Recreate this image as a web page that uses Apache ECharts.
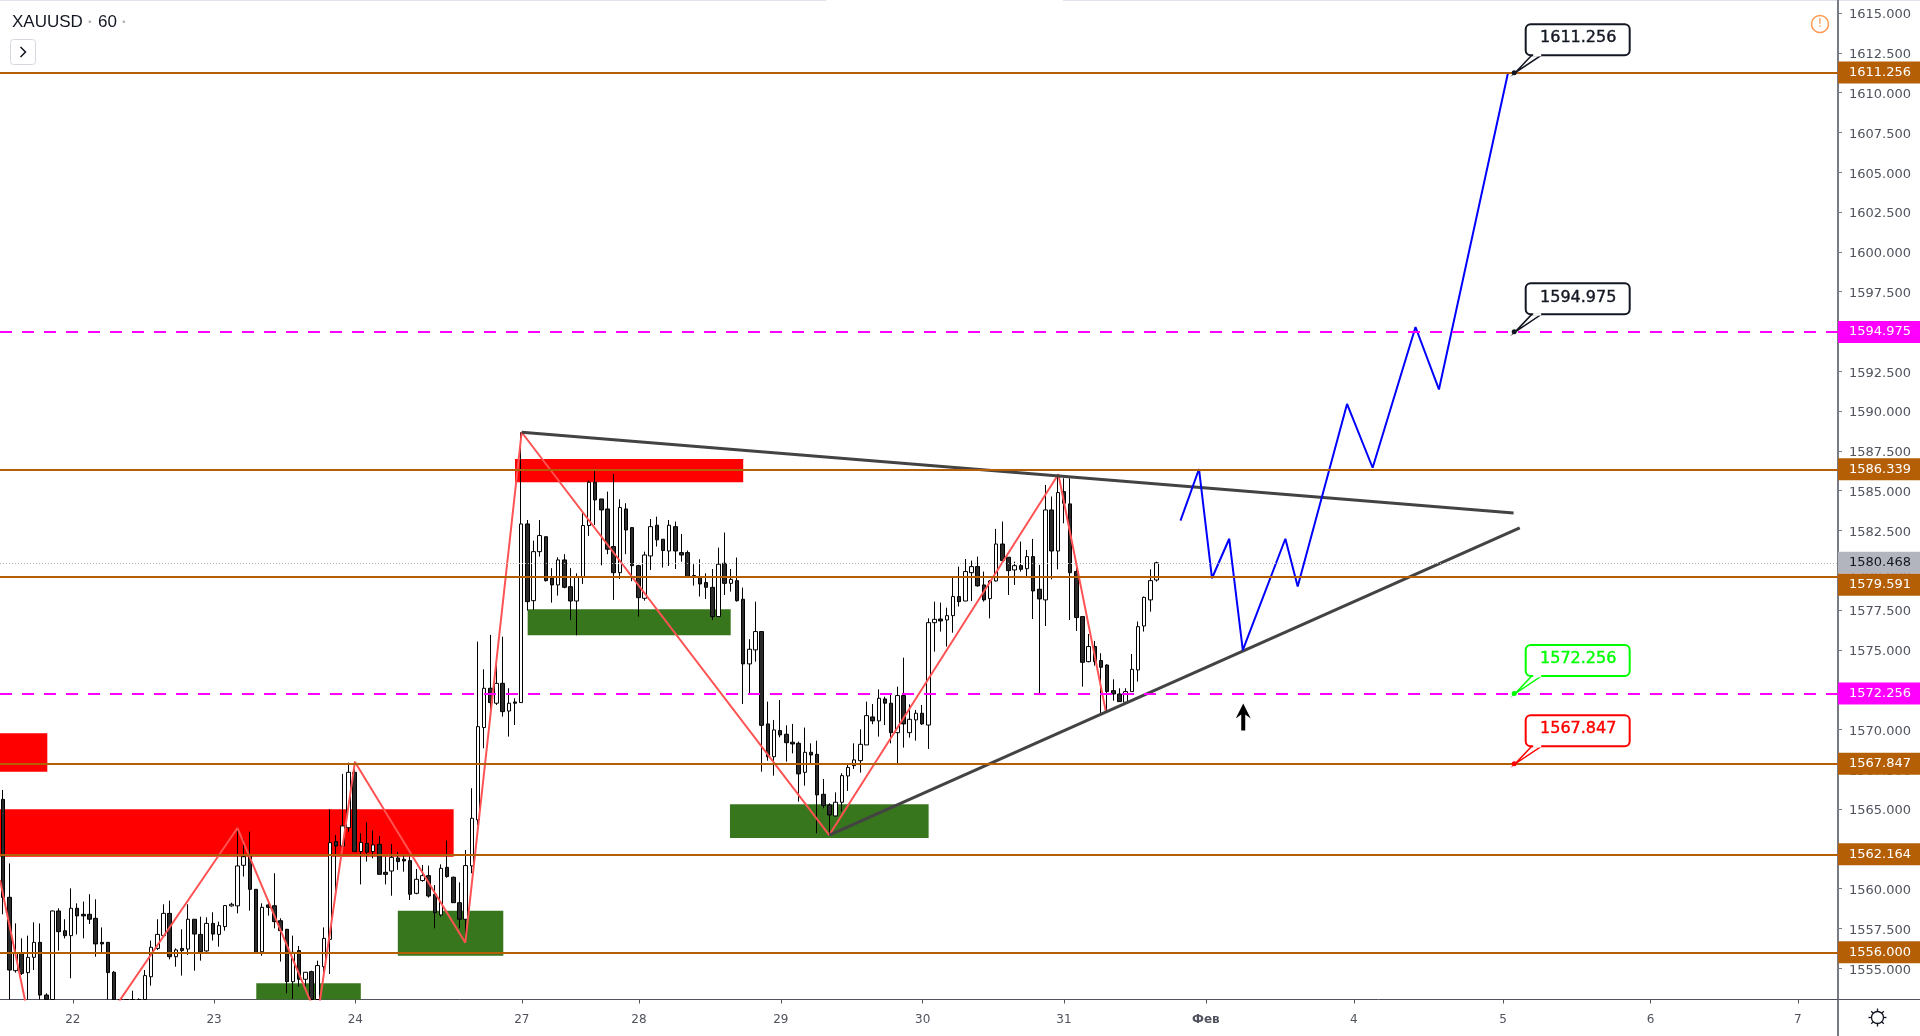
<!DOCTYPE html>
<html lang="ru">
<head>
<meta charset="UTF-8">
<title>XAUUSD 60</title>
<script src="https://cdn.jsdelivr.net/npm/echarts@6/dist/echarts.min.js"></script>
<style>
  html, body { margin: 0; padding: 0; background: #fff; }
  #main { width: 1920px; height: 1036px; }
</style>
</head>
<body>
<div id="main"></div>
<script>
// x is counted in hourly bar slots, bar i sits at i + 0.5
var slotCount = 298;
var priceMin = 1553.04;
var priceMax = 1615.82;

var opens = [
  1565.61,1559.46,1554.85,1555.94,1554.73,1555.69,1556.63,1553.32,1552.6,1558.60,
  1557.36,1557.05,1558.77,1558.39,1558.39,1558.14,1556.63,1556.63,1554.75,1552.8,
  1552.0,1552.4,1552.6,1552.9,1554.47,1556.25,1557.05,1558.45,1555.73,1556.25,
  1556.21,1558.08,1557.13,1556.09,1557.82,1557.13,1557.62,1558.92,1558.92,1561.47,
  1562.01,1559.96,1556.04,1558.98,1558.93,1557.99,1557.45,1554.16,1556.11,1554.31,
  1554.79,1552.9,1555.10,1556.82,1562.96,1562.68,1563.83,1567.31,1562.33,1562.85,
  1562.33,1562.79,1561.03,1561.11,1561.93,1561.85,1561.76,1559.71,1560.51,1560.82,
  1559.65,1558.35,1561.34,1560.72,1559.12,1558.08,1561.43,1564.32,1570.12,1572.59,
  1571.65,1572.90,1571.16,1571.73,1571.69,1582.91,1578.09,1581.17,1582.11,1579.50,
  1579.08,1580.65,1578.97,1578.07,1579.60,1582.81,1585.53,1584.48,1583.85,1581.49,
  1579.85,1583.85,1582.68,1580.29,1578.24,1580.90,1582.83,1581.95,1581.21,1582.74,
  1581.11,1581.11,1579.67,1579.56,1579.23,1578.93,1577.09,1580.44,1579.18,1579.35,
  1578.18,1574.12,1575.00,1576.15,1570.35,1568.29,1569.93,1569.70,1569.20,1569.13,
  1567.31,1568.57,1568.44,1565.93,1565.26,1564.57,1565.43,1567.08,1567.73,1568.04,
  1569.03,1570.79,1570.54,1571.92,1571.65,1569.80,1572.13,1569.80,1570.60,1571.02,
  1570.28,1576.71,1576.94,1576.88,1577.15,1578.35,1578.07,1579.85,1580.23,1579.08,
  1578.22,1579.33,1581.65,1580.82,1580.02,1580.29,1580.10,1580.86,1578.81,1578.14,
  1583.79,1581.21,1584.94,1584.17,1579.92,1577.09,1574.26,1575.21,1574.33,1574.05,
  1572.44,1572.23,1571.71,1572.38,1573.74,1576.50,1578.14,1579.39
];
var closes = [
  1559.44,1554.89,1555.94,1554.68,1555.69,1556.63,1553.32,1553.0,1558.60,1557.30,
  1557.05,1558.77,1558.29,1558.29,1558.08,1556.53,1556.53,1554.73,1552.9,1552.0,
  1552.5,1552.8,1552.9,1554.54,1556.32,1557.13,1558.45,1555.73,1556.15,1556.11,
  1558.08,1557.15,1556.04,1557.82,1557.15,1557.68,1558.94,1559.02,1561.43,1562.01,
  1559.96,1555.98,1558.83,1558.83,1557.93,1557.36,1554.16,1556.00,1554.31,1554.75,
  1552.9,1555.17,1556.88,1562.89,1562.68,1563.94,1567.31,1562.33,1562.91,1562.29,
  1562.75,1560.90,1560.90,1561.97,1561.70,1561.74,1559.65,1560.59,1560.82,1559.54,
  1558.49,1561.28,1560.76,1559.12,1558.08,1561.45,1564.42,1570.18,1572.59,1571.69,
  1572.90,1571.12,1571.65,1571.65,1582.91,1578.03,1581.17,1582.18,1579.35,1579.08,
  1580.65,1578.93,1578.07,1579.60,1582.81,1585.53,1584.42,1583.79,1581.32,1579.85,
  1583.94,1582.53,1580.29,1578.28,1580.96,1582.74,1581.91,1581.24,1582.83,1581.21,
  1580.96,1579.60,1579.60,1579.14,1578.93,1577.09,1580.38,1579.18,1579.43,1578.09,
  1574.12,1575.04,1576.15,1570.26,1568.29,1569.97,1569.66,1569.17,1569.09,1567.21,
  1568.57,1568.40,1565.89,1565.22,1564.63,1565.43,1567.10,1567.62,1568.09,1569.07,
  1570.87,1570.54,1571.96,1571.65,1569.80,1572.13,1570.35,1570.64,1571.02,1570.35,
  1576.71,1576.92,1576.82,1577.15,1578.35,1578.03,1579.92,1580.23,1579.02,1578.14,
  1579.33,1581.65,1580.61,1579.98,1580.29,1580.06,1580.86,1578.70,1578.20,1583.79,
  1581.21,1584.88,1584.21,1579.85,1577.03,1574.22,1575.21,1574.26,1573.91,1572.38,
  1572.23,1571.75,1572.38,1573.78,1576.46,1578.30,1579.35,1580.47
];
var lows = [
  1558.39,1552.5,1554.73,1554.58,1553.0,1554.89,1552.8,1552.5,1552.3,1556.11,
  1556.88,1554.37,1557.13,1556.88,1557.78,1555.73,1556.02,1553.0,1552.5,1551.5,
  1551.5,1552.0,1552.0,1552.5,1553.91,1556.15,1556.99,1555.56,1555.10,1554.54,
  1555.84,1554.85,1555.48,1556.04,1556.74,1556.36,1557.36,1558.87,1558.45,1560.76,
  1558.62,1555.90,1555.79,1558.31,1557.51,1555.42,1553.43,1553.07,1553.85,1553.85,
  1552.5,1552.5,1554.64,1554.64,1559.81,1562.43,1563.58,1562.33,1560.27,1561.70,
  1561.91,1560.90,1560.27,1559.56,1561.18,1561.07,1559.29,1559.65,1560.44,1559.44,
  1557.51,1558.24,1560.69,1559.12,1557.51,1556.61,1560.97,1564.00,1568.82,1570.60,
  1571.54,1570.81,1569.55,1570.28,1571.69,1577.47,1577.51,1580.86,1579.29,1577.97,
  1578.41,1578.87,1576.88,1575.92,1579.14,1582.16,1582.85,1580.31,1581.01,1578.14,
  1579.46,1581.01,1579.31,1577.09,1578.09,1580.02,1581.49,1580.17,1580.27,1580.08,
  1580.54,1579.54,1579.04,1578.35,1578.20,1576.88,1577.09,1578.45,1578.66,1578.03,
  1571.60,1572.27,1574.26,1567.35,1568.04,1567.10,1569.51,1567.98,1568.50,1565.47,
  1566.47,1567.88,1563.48,1565.05,1563.37,1564.53,1564.84,1566.14,1567.52,1567.29,
  1569.03,1570.33,1569.55,1570.28,1569.13,1567.77,1568.86,1569.49,1569.30,1570.28,
  1568.78,1574.89,1576.15,1575.21,1576.08,1577.72,1578.07,1578.07,1578.97,1578.03,
  1576.98,1579.29,1580.54,1578.45,1579.08,1579.92,1579.60,1576.94,1572.27,1576.50,
  1579.43,1580.06,1582.95,1576.88,1576.19,1572.69,1574.22,1574.01,1570.98,1571.12,
  1571.81,1571.75,1571.65,1572.38,1573.01,1576.15,1577.40,1579.29
];
var highs = [
  1566.20,1561.59,1557.82,1556.88,1557.05,1557.89,1557.82,1553.43,1558.62,1558.77,
  1558.08,1560.02,1559.08,1559.19,1559.65,1559.33,1557.57,1556.63,1554.83,1552.9,
  1552.8,1553.59,1553.11,1554.89,1556.74,1558.08,1559.02,1559.25,1556.25,1557.45,
  1559.02,1558.08,1558.24,1558.20,1558.52,1557.93,1558.96,1559.12,1563.79,1563.10,
  1563.58,1559.96,1559.08,1559.25,1560.97,1558.14,1557.47,1557.05,1556.40,1554.75,
  1554.85,1555.48,1557.57,1564.99,1563.37,1567.21,1567.92,1567.98,1563.48,1564.17,
  1563.65,1563.31,1562.01,1562.81,1562.29,1562.12,1562.01,1561.24,1561.49,1561.45,
  1560.23,1561.53,1563.02,1560.76,1560.40,1562.43,1566.31,1575.52,1573.78,1575.94,
  1574.62,1575.83,1572.59,1571.96,1588.67,1583.16,1581.86,1583.16,1582.11,1580.13,
  1580.82,1581.01,1580.13,1579.81,1583.58,1585.63,1586.26,1584.48,1584.94,1586.05,
  1584.46,1584.21,1582.70,1580.34,1581.17,1583.22,1583.37,1581.95,1583.16,1583.06,
  1582.28,1581.24,1580.38,1580.69,1579.81,1580.08,1581.42,1582.37,1580.08,1580.80,
  1578.91,1575.67,1578.03,1576.15,1571.75,1570.60,1571.85,1570.26,1570.35,1569.24,
  1570.12,1569.13,1569.30,1566.89,1565.36,1566.05,1567.25,1567.88,1569.13,1570.01,
  1571.75,1571.60,1572.52,1572.06,1572.21,1572.69,1574.51,1571.58,1571.23,1571.54,
  1576.98,1578.03,1577.97,1577.65,1579.56,1580.23,1580.71,1580.61,1580.86,1579.92,
  1579.39,1582.60,1583.06,1580.82,1580.54,1581.80,1581.28,1581.97,1580.34,1585.36,
  1584.63,1586.03,1585.78,1585.78,1580.54,1577.09,1576.00,1575.56,1574.79,1574.09,
  1573.15,1572.59,1572.59,1574.74,1576.78,1578.35,1580.06,1580.54
];

var dayTicks = [11.8, 34.7, 57.6, 84.6, 103.6, 126.6, 149.6, 172.5, 195.5, 219.5, 243.7, 267.6, 291.5];
var dayLabels = ['22', '23', '24', '27', '28', '29', '30', '31', 'Фев', '4', '5', '6', '7'];
var priceTicks = [
  1555, 1557.5, 1560, 1562.5, 1565, 1567.5, 1570, 1572.5, 1575, 1577.5, 1580, 1582.5, 1585,
  1587.5, 1590, 1592.5, 1595, 1597.5, 1600, 1602.5, 1605, 1607.5, 1610, 1612.5, 1615
];

// horizontal levels
var brownLevels = [1611.256, 1586.339, 1579.591, 1567.847, 1562.164, 1556.000];
var magentaLevels = [1594.975, 1572.256];
var lastPrice = 1580.468;

// zones: slot from, slot to, price top, price bottom
var redZones = [
  [0, 7.67, 1569.76, 1567.35],
  [0, 73.55, 1564.99, 1562.01],
  [83.5, 120.5, 1586.99, 1585.53]
];
var greenZones = [
  [41.55, 58.5, 1554.06, 1553.04],
  [64.5, 81.6, 1558.62, 1555.79],
  [85.55, 118.47, 1577.55, 1575.92],
  [118.35, 150.56, 1565.30, 1563.18]
];

var zigzagPath = [
  [0, 1560.55], [7.65, 1546.31], [38.5, 1563.81], [51.47, 1551.90], [57.55, 1567.96],
  [75.44, 1556.61], [84.58, 1588.67], [134.45, 1563.37], [171.6, 1586.03], [179.3, 1571.12]
];
var upperTrend = [[84.58, 1588.67], [245.4, 1583.60]];
var lowerTrend = [[134.45, 1563.37], [246.4, 1582.67]];
var forecastPath = [
  [191.4, 1583.12], [194.4, 1586.36], [196.5, 1579.50], [199.3, 1581.98], [201.5, 1574.98],
  [208.4, 1581.98], [210.4, 1578.98], [218.4, 1590.45], [222.55, 1586.44], [229.5, 1595.28],
  [233.3, 1591.36], [244.5, 1611.256]
];
var arrowPoint = [[201.57, 1570.78]];

var calloutSlot = 245.5;
var calloutPrices = [1611.256, 1594.975, 1572.256, 1567.847];
var calloutColors = ['#131722', '#131722', '#00ff00', '#ff0000'];

var axisFont = 'DejaVu Sans';

// bars run off the bottom of the pane, the candlestick series does not cut them there
function inPane(v) { return Math.max(v, priceMin); }
var candleData = opens.map(function (o, i) {
  return [i + 0.5, inPane(o), inPane(closes[i]), inPane(lows[i]), inPane(highs[i])];
});

function levelLine(value, color, type, width) {
  return {
    yAxis: value,
    lineStyle: { color: color, type: type, width: width },
    label: {
      show: true, position: 'end', distance: 0,
      formatter: value.toFixed(3),
      color: '#fff', backgroundColor: color,
      fontFamily: axisFont, fontSize: 13,
      padding: [4, 10, 4, 11], lineHeight: 14
    }
  };
}

var levelLines = brownLevels.map(function (v) { return levelLine(v, '#b45f06', 'solid', 2); })
  .concat(magentaLevels.map(function (v) { return levelLine(v, '#ff00ff', [12, 10], 2); }));
var lastLine = levelLine(lastPrice, '#b2b5be', [1, 2], 1);
lastLine.label.color = '#131722';
levelLines.unshift(lastLine);
// the scale pushes this box down so it does not sit on the last price box
levelLines[3].label.offset = [0, 8];

function renderZone(color) {
  return function (params, api) {
    var a = api.coord([api.value(0), api.value(2)]);
    var b = api.coord([api.value(1), api.value(3)]);
    return {
      type: 'rect',
      shape: { x: a[0], y: a[1], width: b[0] - a[0], height: b[1] - a[1] },
      style: { fill: color }
    };
  };
}

function renderCallout(params, api) {
  var p = api.coord([api.value(0), api.value(1)]);
  var color = calloutColors[params.dataIndex];
  var boxX = p[0] + 11.5, boxY = p[1] - 48.5;
  return {
    type: 'group',
    children: [
      {
        type: 'polygon',
        shape: { points: [[p[0] + 1, p[1]], [p[0] + 18, p[1] - 18], [p[0] + 28, p[1] - 18]] },
        style: { fill: '#fff', stroke: color, lineWidth: 1.5 }
      },
      {
        type: 'rect',
        shape: { x: boxX, y: boxY, width: 104, height: 31, r: 5 },
        style: { fill: '#fff', stroke: color, lineWidth: 2 }
      },
      {
        type: 'line',
        shape: { x1: p[0] + 19, y1: p[1] - 17.5, x2: p[0] + 27, y2: p[1] - 17.5 },
        style: { stroke: '#fff', lineWidth: 2.5 }
      },
      {
        type: 'text',
        style: {
          text: api.value(1).toFixed(3), x: p[0] + 64, y: p[1] - 34.5,
          align: 'center', verticalAlign: 'middle',
          fontFamily: axisFont, fontSize: 16, fill: color, stroke: color, lineWidth: 0.4
        }
      },
      { type: 'circle', shape: { cx: p[0], cy: p[1], r: 2.5 }, style: { fill: color } }
    ]
  };
}

function pathSeries(data, color, width, z) {
  return {
    type: 'line', data: data, showSymbol: false, silent: true, z: z,
    lineStyle: { color: color, width: width }, animation: false
  };
}

// little spokes of the settings gear
var gearSpokes = [[0, -1], [0, 1], [-1, 0], [1, 0], [-0.7, -0.7], [0.7, 0.7], [-0.7, 0.7], [0.7, -0.7]].map(function (d) {
  return {
    type: 'line',
    shape: { x1: 1877.5 + d[0] * 6, y1: 1017.5 + d[1] * 6, x2: 1877.5 + d[0] * 9, y2: 1017.5 + d[1] * 9 },
    style: { stroke: '#131722', lineWidth: 1.3 }
  };
});

var chart = echarts.init(document.getElementById('main'));
chart.setOption({
  animation: false,
  backgroundColor: '#ffffff',
  grid: { left: 0, top: 0, width: 1838, height: 999.5 },
  xAxis: {
    type: 'value', min: 0, max: slotCount, splitLine: { show: false },
    axisLine: { onZero: false, lineStyle: { color: '#50535e', width: 1 } },
    axisTick: { length: 4, customValues: dayTicks, lineStyle: { color: '#50535e' } },
    axisLabel: {
      customValues: dayTicks, color: '#50535e', fontFamily: axisFont, fontSize: 12, margin: 14,
      formatter: function (v) {
        var label = dayLabels[dayTicks.indexOf(v)];
        return label === 'Фев' ? '{b|' + label + '}' : label;
      },
      rich: { b: { fontWeight: 'bold', fontFamily: axisFont, fontSize: 12, color: '#50535e' } }
    }
  },
  yAxis: {
    type: 'value', position: 'right', min: priceMin, max: priceMax, splitLine: { show: false },
    axisLine: { show: true, onZero: false, lineStyle: { color: '#787b86', width: 2 } },
    axisTick: { show: true, length: 4, customValues: priceTicks, lineStyle: { color: '#787b86' } },
    axisLabel: {
      customValues: priceTicks, color: '#50535e', fontFamily: axisFont, fontSize: 13, margin: 11,
      formatter: function (v) { return '{v|' + v.toFixed(3) + '}'; },
      rich: { v: { fontFamily: axisFont, fontSize: 13, color: '#50535e', padding: [4, 0, 0, 0] } }
    }
  },
  series: [
    { type: 'custom', renderItem: renderZone('#ff0000'), data: redZones, encode: { x: [0, 1], y: [2, 3] }, z: 1, silent: true },
    { type: 'custom', renderItem: renderZone('#38761d'), data: greenZones, encode: { x: [0, 1], y: [2, 3] }, z: 1, silent: true },
    {
      type: 'line', data: [], z: 2, silent: true,
      markLine: { symbol: 'none', silent: true, animation: false, data: levelLines }
    },
    {
      type: 'candlestick', data: candleData, z: 3, barWidth: 4, silent: true,
      itemStyle: { color: '#ffffff', color0: '#2a2a2a', borderColor: '#000000', borderColor0: '#000000', borderWidth: 1 }
    },
    pathSeries(zigzagPath, '#ff5252', 2, 4),
    pathSeries(upperTrend, '#434343', 3, 4),
    pathSeries(lowerTrend, '#434343', 3, 4),
    pathSeries(forecastPath, '#0000ff', 2, 4),
    {
      type: 'scatter', data: arrowPoint, z: 5, silent: true,
      symbol: 'path://M7.5 0 L15 15 L9.5 11 L9.5 27 L5.5 27 L5.5 11 L0 15 Z',
      symbolSize: [15, 27], itemStyle: { color: '#000000', opacity: 1 }
    },
    {
      type: 'custom', renderItem: renderCallout, z: 6, silent: true,
      data: calloutPrices.map(function (p) { return [calloutSlot, p]; }),
      encode: { x: 0, y: 1 }
    }
  ],
  graphic: [
    { type: 'rect', shape: { x: 0, y: 0, width: 826, height: 1 }, style: { fill: '#e0e3eb' } },
    { type: 'rect', shape: { x: 1063, y: 0, width: 857, height: 1 }, style: { fill: '#e0e3eb' } },
    { type: 'line', shape: { x1: 1838, y1: 999.5, x2: 1838, y2: 1036 }, style: { stroke: '#787b86', lineWidth: 2 } },
    { type: 'line', shape: { x1: 1838, y1: 999.5, x2: 1920, y2: 999.5 }, style: { stroke: '#50535e', lineWidth: 1 } },
    {
      type: 'text', x: 12, y: 14,
      style: {
        text: '{t|XAUUSD}{d| · }{t|60}{d| ·}',
        rich: {
          t: { fontFamily: 'Liberation Sans', fontSize: 17, fill: '#131722' },
          d: { fontFamily: 'Liberation Sans', fontSize: 17, fill: '#b2b5be', fontWeight: 'bold' }
        }
      }
    },
    { type: 'rect', shape: { x: 10.5, y: 39.5, width: 25, height: 25, r: 3 }, style: { fill: '#fff', stroke: '#d6d8e0', lineWidth: 1 } },
    { type: 'polyline', shape: { points: [[20.5, 47], [25.5, 52], [20.5, 57]] }, style: { fill: 'none', stroke: '#131722', lineWidth: 1.5 } },
    { type: 'circle', shape: { cx: 1820, cy: 24, r: 8.5 }, style: { fill: 'none', stroke: '#ff9850', lineWidth: 1.5 } },
    { type: 'text', x: 1820, y: 24, style: { text: '!', align: 'center', verticalAlign: 'middle', fontFamily: axisFont, fontSize: 12, fill: '#ff9850' } },
    { type: 'circle', shape: { cx: 1877.5, cy: 1017.5, r: 6 }, style: { fill: 'none', stroke: '#131722', lineWidth: 1.3 } }
  ].concat(gearSpokes)
});
</script>
</body>
</html>
